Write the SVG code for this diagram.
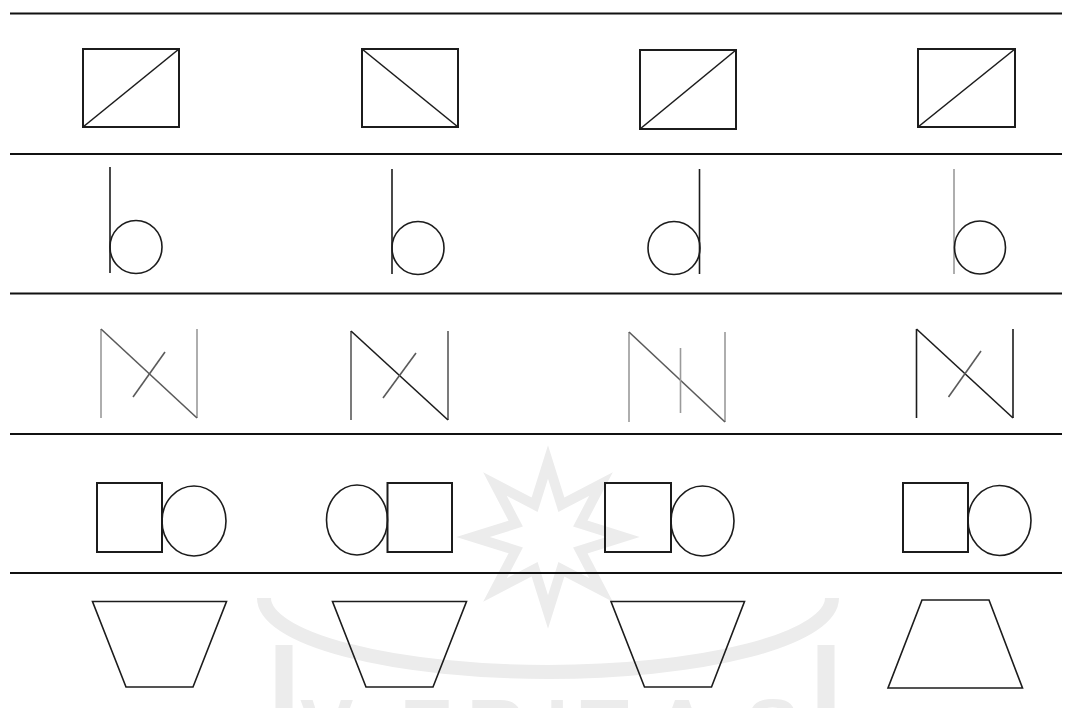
<svg xmlns="http://www.w3.org/2000/svg" width="1077" height="708" viewBox="0 0 1077 708">
<style>
.s{fill:none;stroke:#1c1c1c;stroke-width:1.6;stroke-linejoin:miter}
.r{fill:none;stroke:#1c1c1c;stroke-width:2}
.g{fill:none;stroke:#9a9a9a;stroke-width:1.6}
.m{fill:none;stroke:#5a5a5a;stroke-width:1.6}
.sep{stroke:#111;stroke-width:2}
.wm{fill:none;stroke:#ececec}
.wmt{fill:#ececec;font-family:"Liberation Sans",Arial,sans-serif;font-weight:bold;font-size:80px}
</style>
<rect width="1077" height="708" fill="#ffffff"/>
<g id="watermark">
<path class="wm" stroke-width="10" d="M548 462 L561.4 504.7 L601 484 L580.3 523.6 L623 537 L580.3 550.4 L601 590 L561.4 569.3 L548 612 L534.6 569.3 L495 590 L515.7 550.4 L473 537 L515.7 523.6 L495 484 L534.6 504.7 Z"/>
<path class="wm" stroke-width="14" d="M264 598 A 284 74 0 0 0 832 598"/>
<path class="wm" stroke-width="17" d="M284 645 L284 708 M826 645 L826 708"/>
<text class="wmt" x="300 400 467 546 580 653 746" y="755">VERITAS</text>
</g>
<g id="rules">
<line class="sep" x1="10" y1="13.5" x2="1062" y2="13.5"/>
<line class="sep" x1="10" y1="154" x2="1062" y2="154"/>
<line class="sep" x1="10" y1="293.5" x2="1062" y2="293.5"/>
<line class="sep" x1="10" y1="434" x2="1062" y2="434"/>
<line class="sep" x1="10" y1="573" x2="1062" y2="573"/>
</g>
<g id="row1">
<g id="r1c1"><rect class="r" x="83" y="49" width="96" height="78"/><line class="s" x1="83" y1="127" x2="179" y2="49"/></g>
<g id="r1c2"><rect class="r" x="362" y="49" width="96" height="78"/><line class="s" x1="362" y1="49" x2="458" y2="127"/></g>
<g id="r1c3"><rect class="r" x="640" y="50" width="96" height="79"/><line class="s" x1="640" y1="129" x2="736" y2="50"/></g>
<g id="r1c4"><rect class="r" x="918" y="49" width="97" height="78"/><line class="s" x1="918" y1="127" x2="1015" y2="49"/></g>
</g>
<g id="row2">
<g id="r2c1"><line class="s" x1="110" y1="167" x2="110" y2="273"/><ellipse class="s" cx="136" cy="247" rx="26" ry="26.5"/></g>
<g id="r2c2"><line class="s" x1="392" y1="169" x2="392" y2="274"/><ellipse class="s" cx="418" cy="248" rx="26" ry="26.5"/></g>
<g id="r2c3"><line class="s" x1="699.5" y1="169" x2="699.5" y2="274"/><ellipse class="s" cx="674" cy="248" rx="26" ry="26.5"/></g>
<g id="r2c4"><line class="g" x1="954" y1="169" x2="954" y2="274"/><ellipse class="s" cx="980" cy="247.5" rx="25.5" ry="26.5"/></g>
</g>
<g id="row3">
<g id="r3c1"><line class="g" x1="101" y1="329" x2="101" y2="418"/><line class="g" x1="197" y1="329" x2="197" y2="418"/><line class="m" x1="101" y1="329" x2="197" y2="418"/><line class="m" x1="165" y1="352" x2="133" y2="397"/></g>
<g id="r3c2"><line class="m" x1="351" y1="331" x2="351" y2="420"/><line class="m" x1="448" y1="331" x2="448" y2="420"/><line class="s" x1="351" y1="331" x2="448" y2="420"/><line class="m" x1="416" y1="353" x2="383" y2="398"/></g>
<g id="r3c3"><line class="g" x1="629" y1="332" x2="629" y2="422"/><line class="g" x1="725" y1="332" x2="725" y2="422"/><line class="m" x1="629" y1="332" x2="725" y2="422"/><line class="g" x1="680.5" y1="348" x2="680.5" y2="413"/></g>
<g id="r3c4"><line class="s" x1="916.5" y1="329" x2="916.5" y2="418"/><line class="s" x1="1013" y1="329" x2="1013" y2="418"/><line class="s" x1="916.5" y1="329" x2="1013" y2="418"/><line class="m" x1="981" y1="351" x2="948.5" y2="397"/></g>
</g>
<g id="row4">
<g id="r4c1"><rect class="r" x="97" y="483" width="65" height="69"/><ellipse class="s" cx="194" cy="521" rx="32" ry="35"/></g>
<g id="r4c2"><ellipse class="s" cx="357" cy="520" rx="30.5" ry="35"/><rect class="r" x="387.5" y="483" width="64.5" height="69"/></g>
<g id="r4c3"><rect class="r" x="605" y="483" width="66" height="69"/><ellipse class="s" cx="702.5" cy="521" rx="31.5" ry="35"/></g>
<g id="r4c4"><rect class="r" x="903" y="483" width="65" height="69"/><ellipse class="s" cx="999.5" cy="520.5" rx="31.5" ry="35"/></g>
</g>
<g id="row5">
<g id="r5c1"><path class="s" d="M92.5 601.5 L226.5 601.5 L193 687 L126 687 Z"/></g>
<g id="r5c2"><path class="s" d="M332.5 601.5 L466.5 601.5 L433 687 L366 687 Z"/></g>
<g id="r5c3"><path class="s" d="M611 601.5 L744.5 601.5 L711.5 687 L644.5 687 Z"/></g>
<g id="r5c4"><path class="s" d="M922 600 L989 600 L1022.5 688 L888 688 Z"/></g>
</g>
</svg>
